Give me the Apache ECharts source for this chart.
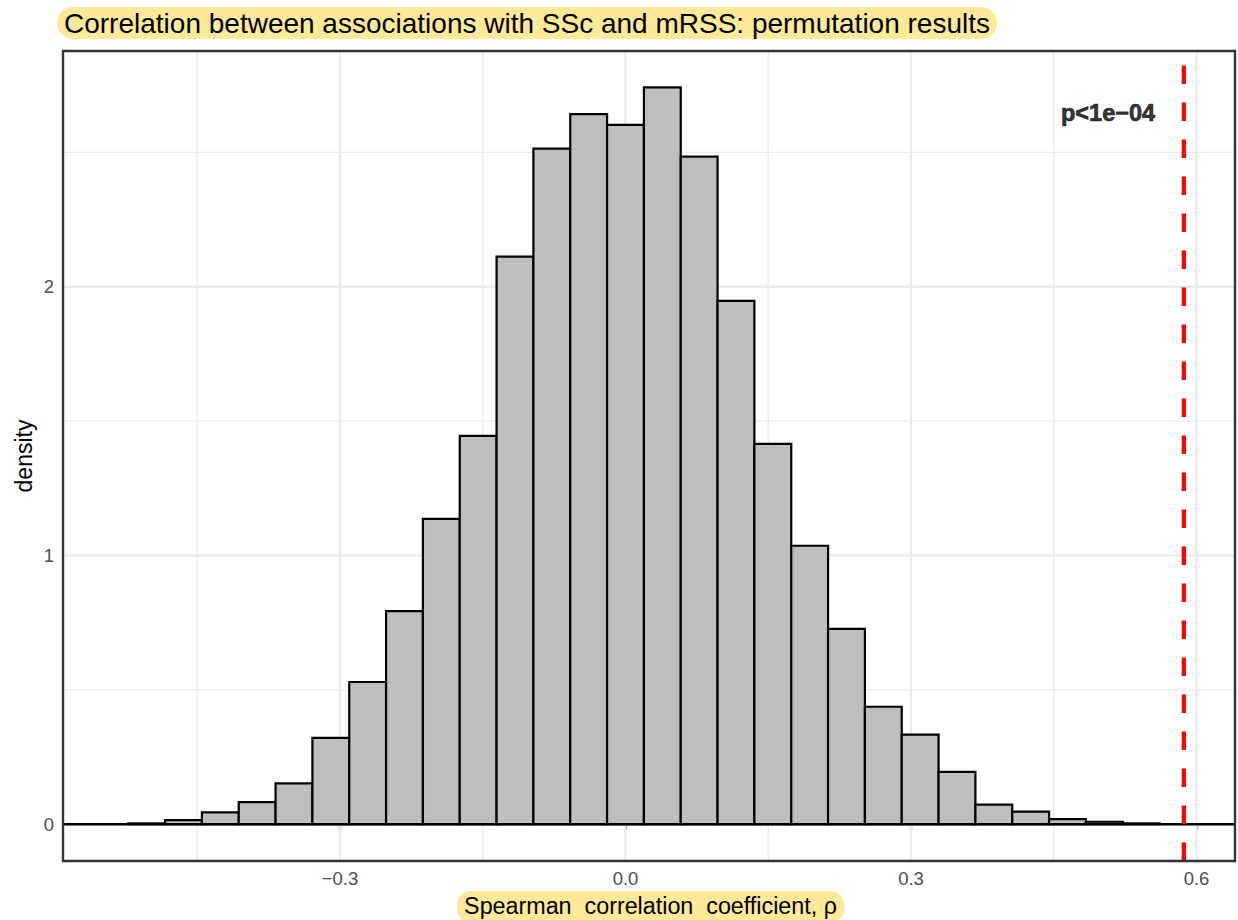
<!DOCTYPE html>
<html><head><meta charset="utf-8">
<script src="https://cdn.jsdelivr.net/npm/echarts@6/dist/echarts.min.js"></script>
<style>html,body{margin:0;padding:0;background:#fff}#c{width:1238px;height:920px}</style>
</head><body><div id="c"></div>
<script>
// ---- data ----
const binCenters = [-0.5031,-0.4644,-0.4257,-0.3870,-0.3483,-0.3096,-0.2709,-0.2322,-0.1935,-0.1548,-0.1161,-0.0774,-0.0387,0.0,
                    0.0387,0.0774,0.1161,0.1548,0.1935,0.2322,0.2709,0.3096,0.3483,0.3870,0.4257,0.4644,0.5031,0.5418];
const densities  = [0.003,0.015,0.044,0.082,0.152,0.321,0.529,0.793,1.136,1.445,2.112,2.514,2.642,2.602,
                    2.742,2.484,1.947,1.415,1.036,0.727,0.437,0.333,0.195,0.073,0.047,0.019,0.009,0.003];
const binWidth = 0.0387;
const observedRho = 0.5866;
const pLabel = 'p<1e\u221204';
const pLabelPos = [0.507, 2.647];
const xTicks = [-0.3, 0.0, 0.3, 0.6];
const xTickLabels = ['\u22120.3', '0.0', '0.3', '0.6'];
const xMinorTicks = [-0.45, -0.15, 0.15, 0.45];
const yTicks = [0, 1, 2];
const yTickLabels = ['0', '1', '2'];
const yMinorTicks = [0.5, 1.5, 2.5];
const xRange = [-0.591, 0.6404];
const yRange = [-0.137, 2.877];
const titleText = 'Correlation between associations with SSc and mRSS: permutation results';
const xTitle = 'Spearman  correlation  coefficient, \u03c1';
const yTitle = 'density';

const FONT = '"Liberation Sans", Arial, Helvetica, sans-serif';
const HIGHLIGHT = '#FDE998';

const histData = binCenters.map((c, i) => [c, densities[i]]);

const chart = echarts.init(document.getElementById('c'), null, {renderer: 'svg'});

const option = {
  backgroundColor: '#ffffff',
  animation: false,
  title: {
    text: titleText,
    left: 57, top: 7,
    backgroundColor: HIGHLIGHT,
    borderRadius: 16,
    padding: [1, 7, 1, 7],
    textStyle: {fontSize: 28, fontFamily: FONT, color: '#000', fontWeight: 'normal', lineHeight: 30}
  },
  grid: {left: 63, right: 3, top: 51, bottom: 59, show: true, borderColor: '#333333', borderWidth: 2.4, backgroundColor: 'transparent', z: 10},
  xAxis: {
    type: 'value', min: xRange[0], max: xRange[1],
    axisLine: {show: false},
    splitLine: {show: false},
    axisTick: {show: true, customValues: xTicks, length: 5.5, lineStyle: {color: '#333333', width: 2.2}},
    axisLabel: {
      customValues: xTicks, margin: 8, fontSize: 18.5, color: '#4D4D4D', fontFamily: FONT,
      formatter: v => { const i = xTicks.findIndex(t => Math.abs(t - v) < 1e-9); return i >= 0 ? xTickLabels[i] : ''; }
    }
  },
  yAxis: {
    type: 'value', min: yRange[0], max: yRange[1],
    axisLine: {show: false},
    splitLine: {show: false},
    axisTick: {show: true, customValues: yTicks, length: 5.5, lineStyle: {color: '#333333', width: 2.2}},
    axisLabel: {
      customValues: yTicks, margin: 9, fontSize: 18.5, color: '#4D4D4D', fontFamily: FONT,
      formatter: v => { const i = yTicks.findIndex(t => Math.abs(t - v) < 1e-9); return i >= 0 ? yTickLabels[i] : ''; }
    }
  },
  graphic: [
    {
      type: 'text', x: 650.5, y: 891,
      style: {
        text: xTitle, align: 'center', verticalAlign: 'top',
        font: '23.3px ' + FONT, fill: '#000',
        backgroundColor: HIGHLIGHT, padding: [1, 7, 3, 7], borderRadius: 14, lineHeight: 28
      }
    },
    {
      type: 'text', x: 24, y: 456, rotation: Math.PI / 2,
      style: {text: yTitle, align: 'center', verticalAlign: 'middle', font: '23px ' + FONT, fill: '#000'}
    }
  ],
  series: [
    {
      // grid lines
      type: 'custom', silent: true, z: 1, clip: true,
      data: [[0, 0]],
      renderItem: (params, api) => {
        const cs = params.coordSys;
        const children = [];
        const vline = (v, w) => { const p = api.coord([v, 0])[0]; children.push({type: 'line', shape: {x1: p, y1: cs.y, x2: p, y2: cs.y + cs.height}, style: {stroke: '#EBEBEB', lineWidth: w}}); };
        const hline = (v, w) => { const p = api.coord([0, v])[1]; children.push({type: 'line', shape: {x1: cs.x, y1: p, x2: cs.x + cs.width, y2: p}, style: {stroke: '#EBEBEB', lineWidth: w}}); };
        xMinorTicks.forEach(v => vline(v, 1.3));
        yMinorTicks.forEach(v => hline(v, 1.3));
        xTicks.forEach(v => vline(v, 2.4));
        yTicks.forEach(v => hline(v, 2.4));
        return {type: 'group', children};
      }
    },
    {
      // histogram bars
      type: 'custom', z: 2, clip: true,
      data: histData,
      encode: {x: 0, y: 1},
      renderItem: (params, api) => {
        const c = api.value(0), d = api.value(1);
        const tl = api.coord([c - binWidth / 2, d]);
        const br = api.coord([c + binWidth / 2, 0]);
        return {type: 'rect', shape: {x: tl[0], y: tl[1], width: br[0] - tl[0], height: br[1] - tl[1]},
                style: {fill: '#BEBEBE', stroke: '#000000', lineWidth: 2.2}};
      }
    },
    {
      // reference lines: y = 0 and observed rho
      type: 'custom', silent: true, z: 3, clip: true,
      data: [[observedRho, 0]],
      renderItem: (params, api) => {
        const cs = params.coordSys;
        const y0 = api.coord([0, 0])[1];
        const xr = api.coord([api.value(0), 0])[0];
        return {type: 'group', children: [
          {type: 'line', shape: {x1: cs.x, y1: y0, x2: cs.x + cs.width, y2: y0}, style: {stroke: '#000', lineWidth: 2.4}},
          {type: 'line', shape: {x1: xr, y1: cs.y + cs.height, x2: xr, y2: cs.y}, style: {stroke: '#FF0000', lineWidth: 4.3, lineDash: [18.5, 18.5]}}
        ]};
      }
    },
    {
      type: 'scatter', z: 5, silent: true,
      symbolSize: 0,
      data: [pLabelPos],
      label: {show: true, position: 'inside', formatter: pLabel, fontSize: 23.5, fontWeight: 'bold', color: '#000',
              textBorderColor: '#000', textBorderWidth: 0.7, fontFamily: FONT}
    }
  ]
};
chart.setOption(option);
</script>
</body></html>
